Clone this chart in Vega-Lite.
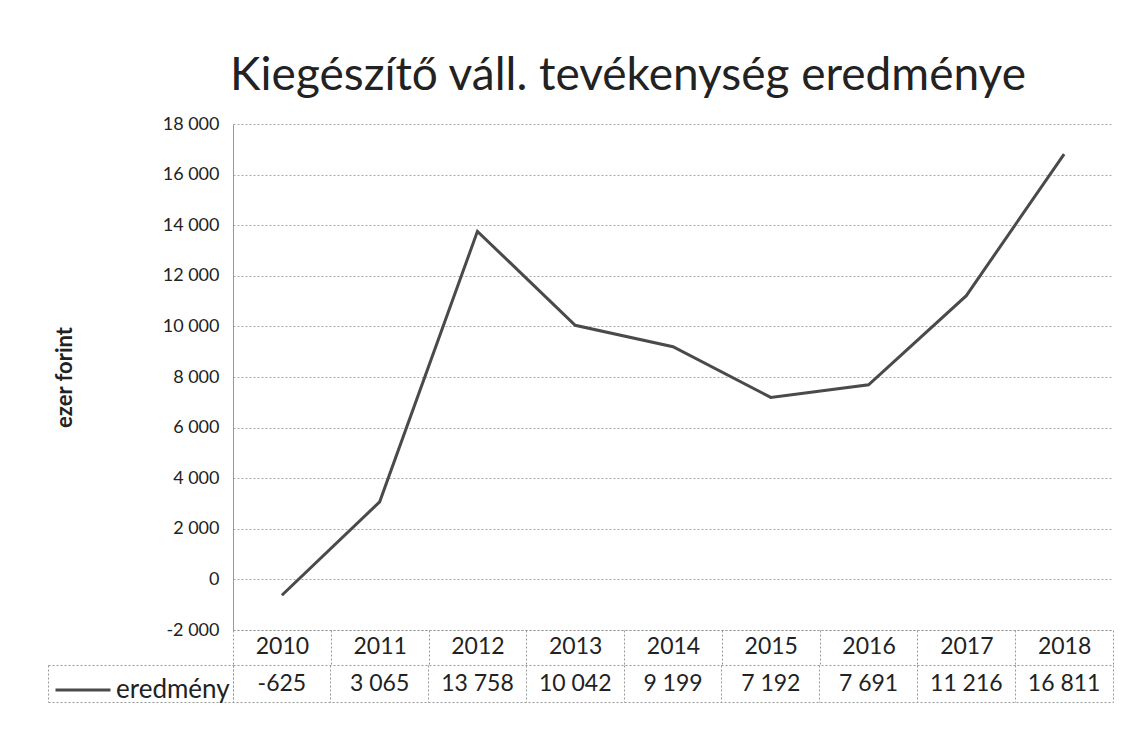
{
  "$schema": "https://vega.github.io/schema/vega-lite/v6.json",
  "background": "white",
  "padding": {"left": 47, "top": 53, "right": 24, "bottom": 20},
  "config": {
    "font": "Lato",
    "locale": {"number": {"decimal": ",", "thousands": " ", "grouping": [3], "currency": ["", " Ft"], "minus": "-"}},
    "axis": {"labelFont": "Lato", "titleFont": "Lato"},
    "legend": {"labelFont": "Lato"}
  },
  "title": {
    "text": "Kiegészítő váll. tevékenység eredménye",
    "fontSize": 46,
    "fontWeight": "normal",
    "color": "#222222",
    "anchor": "middle",
    "frame": "group",
    "dx": -45,
    "offset": 15
  },
  "datasets": {
    "d": [
      {"year": 2010, "value": -625, "series": "eredmény"},
      {"year": 2011, "value": 3065, "series": "eredmény"},
      {"year": 2012, "value": 13758, "series": "eredmény"},
      {"year": 2013, "value": 10042, "series": "eredmény"},
      {"year": 2014, "value": 9199, "series": "eredmény"},
      {"year": 2015, "value": 7192, "series": "eredmény"},
      {"year": 2016, "value": 7691, "series": "eredmény"},
      {"year": 2017, "value": 11216, "series": "eredmény"},
      {"year": 2018, "value": 16811, "series": "eredmény"}
    ]
  },
  "bounds": "flush",
  "spacing": 35,
  "vconcat": [
    {
      "width": 880,
      "height": 506,
      "view": {"stroke": null},
      "data": {"name": "d"},
      "mark": {"type": "line", "strokeWidth": 3},
      "encoding": {
        "x": {
          "field": "year",
          "type": "ordinal",
          "scale": {"type": "band", "paddingInner": 0, "paddingOuter": 0},
          "axis": {
            "orient": "bottom",
            "title": null,
            "labelAngle": 0,
            "labelFontSize": 23,
            "labelColor": "#222222",
            "labelPadding": -30,
            "labelBaseline": "top",
            "ticks": true,
            "tickBand": "extent",
            "tickSize": 35,
            "tickColor": "#999999",
            "tickDash": [2, 2],
            "domain": true,
            "domainColor": "#999999",
            "domainDash": [2, 2],
            "grid": false
          }
        },
        "y": {
          "field": "value",
          "type": "quantitative",
          "scale": {"domain": [-2000, 18000], "nice": false, "zero": false},
          "axis": {
            "values": [-2000, 0, 2000, 4000, 6000, 8000, 10000, 12000, 14000, 16000, 18000],
            "format": ",d",
            "title": "ezer forint",
            "titleFontSize": 22,
            "titleFontWeight": "bold",
            "titleColor": "#222222",
            "titlePadding": 86,
            "labelFontSize": 18,
            "labelColor": "#222222",
            "labelPadding": 14,
            "ticks": false,
            "tickSize": 0,
            "domain": true,
            "domainColor": "#999999",
            "grid": true,
            "gridColor": "#aaaaaa",
            "gridDash": [2, 2]
          }
        },
        "color": {
          "field": "series",
          "type": "nominal",
          "scale": {"range": ["#4a4a4a"]},
          "legend": {
            "orient": "none",
            "legendX": -179,
            "legendY": 537,
            "title": null,
            "symbolType": "stroke",
            "symbolStrokeWidth": 3,
            "symbolSize": 3025,
            "symbolOffset": 0,
            "labelOffset": 4,
            "labelFontSize": 26,
            "labelColor": "#222222",
            "padding": 0
          }
        }
      }
    },
    {
      "width": 880,
      "height": 37,
      "view": {"stroke": "#999999", "strokeDash": [2, 2]},
      "data": {"name": "d"},
      "mark": {"type": "text", "fontSize": 23, "color": "#222222"},
      "encoding": {
        "x": {
          "field": "year",
          "type": "ordinal",
          "scale": {"type": "band", "paddingInner": 0, "paddingOuter": 0},
          "axis": {"orient": "top", "title": null, "labels": false, "ticks": false, "domain": false, "grid": true, "bandPosition": 0, "gridColor": "#999999", "gridDash": [2, 2]}
        },
        "y": {
          "datum": "eredmény",
          "type": "nominal",
          "scale": {"type": "band", "paddingInner": 0, "paddingOuter": 0},
          "axis": {
            "title": null,
            "labels": false,
            "offset": 185,
            "domain": true,
            "domainColor": "#999999",
            "domainDash": [2, 2],
            "ticks": true,
            "tickBand": "extent",
            "tickSize": -185,
            "tickColor": "#999999",
            "tickDash": [2, 2],
            "grid": false
          }
        },
        "text": {"field": "value", "type": "quantitative", "format": ",d"}
      }
    }
  ]
}
